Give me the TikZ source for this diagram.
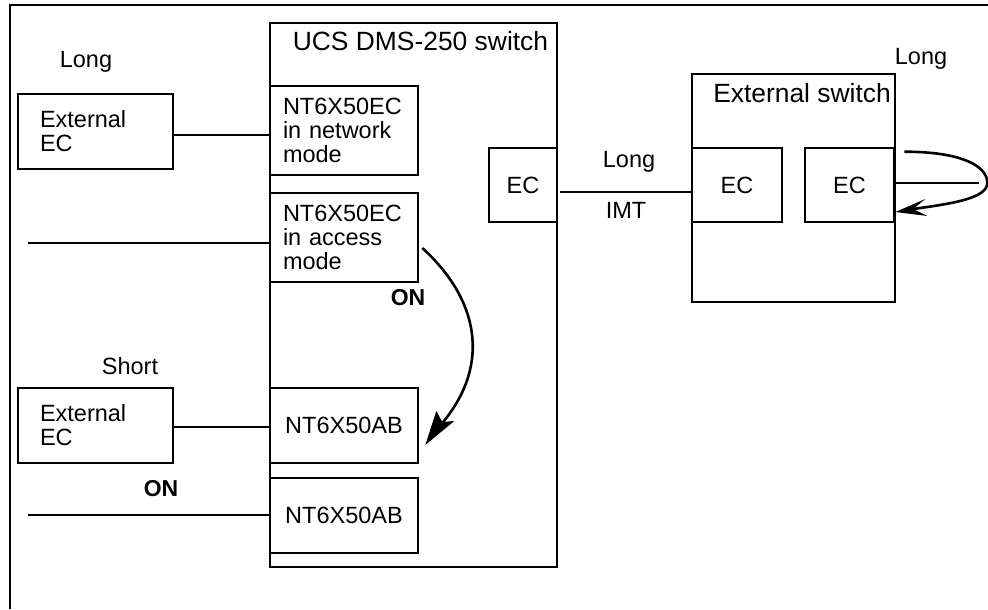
\documentclass[tikz,border=0pt]{standalone}
\usepackage{fontspec}
\setmainfont{Liberation Sans}
\usetikzlibrary{calc}
\tikzset{
  box/.style={draw, rectangle, inner sep=0pt},
  bodyfont/.style={font=\fontsize{11.75}{12}\selectfont},
  titlefont/.style={font=\fontsize{13.2}{13.2}\selectfont},
  lbl/.style={bodyfont, inner sep=0pt},
  onlbl/.style={font=\fontsize{11.5}{11.5}\selectfont\bfseries, inner sep=0pt},
  multibox/.style={box, bodyfont, align=left, minimum width=74pt, minimum height=44.5pt, text width=61pt, inner xsep=6.5pt},
  extbox/.style={box, bodyfont, align=left, minimum width=77.5pt, minimum height=37.5pt, text width=55.5pt, inner xsep=11pt},
  abbox/.style={box, bodyfont, minimum width=74pt, minimum height=37.5pt},
  ecbox/.style={box, bodyfont, minimum height=37pt},
  headfill/.style={fill=black, draw=none}
}
\begin{document}
\begin{tikzpicture}[x=0.5pt,y=-0.5pt, line width=1.3pt]
\useasboundingbox (0,0) rectangle (988,609);
% outer frame
\coordinate (fbl) at (10,609);
\coordinate (ftl) at (10,5);
\coordinate (ftr) at (988,5);
\draw (fbl) -- (ftl) -- (ftr);

% UCS switch
\node[box, minimum width=143.5pt, minimum height=272pt] (ucs) at (413.5,295) {};
\node[inner sep=0pt, titlefont] (ucst) at (420.5,41) {UCS DMS-250 switch};

\node[multibox] (nc1) at (344,130.5) {NT6X50EC\\in network\\mode};
\node[multibox] (nc2) at (344,237.5) {NT6X50EC\\in access\\mode};
\node[abbox] (ab1) at (344,425.5) {NT6X50AB};
\node[abbox] (ab2) at (344,515.5) {NT6X50AB};
\node[ecbox, minimum width=34pt] (ecu) at (523,185) {EC};

% external ECs
\node[extbox] (ext1) at (95.5,131.5) {External\\EC};
\node[extbox] (ext2) at (95.5,425.5) {External\\EC};
\node[lbl] (long1) at (86,62) {Long};
\node[lbl] (short) at (130,366) {Short};

% external switch
\node[box, minimum width=101.5pt, minimum height=114pt] (exs) at (793.5,188) {};
\node[inner sep=0pt, titlefont] (exst) at (802,93) {External switch};
\node[ecbox, minimum width=45pt] (eca) at (737,185) {EC};
\node[ecbox, minimum width=44.5pt] (ecb) at (849.5,185) {EC};
\node[lbl] (long2) at (921,59) {Long};
\node[lbl] (long3) at (629,162) {Long};
\node[lbl] (imt) at (626,210) {IMT};

% connectors
\draw ($(ext1.east)+(0,3.5)$) -- ($(ext1.east -| nc1.west)+(0,3.5)$);
\coordinate (f1) at (28,243);
\draw (f1) -- (f1 -| nc2.west);
\draw ($(ext2.east)+(0,1.5)$) -- ($(ext2.east -| ab1.west)+(0,1.5)$);
\coordinate (f2) at (28,515);
\draw (f2) -- (f2 -| ab2.west);
\draw ($(ecu.east)+(2,7)$) -- ($(eca.west)+(0,7)$);

% ON labels
\node[onlbl] (on1) at (408,298) {ON};
\node[onlbl] (on2) at (161,489) {ON};

% ON curve arrow (head drawn as filled shape)
\coordinate (os) at ($(nc2.east)+(3,10.5)$);
\coordinate (ot) at ($(ab1.east)+(6,19.5)$);
\coordinate (oi) at ($(ot)+(17,-22)$);
\draw (os) .. controls +(55,50) and +(50,-60) .. (oi);
\fill[headfill] (ot) -- ($(ot)+(11,-34)$) -- ($(ot)+(17,-23)$) -- ($(ot)+(29,-24)$) -- cycle;

% loop arrow at external EC
\coordinate (ls) at ($(ecb.north east)+(9,5)$);
\coordinate (lr) at ($(ecb.east)+(92,-2)$);
\coordinate (lt) at ($(ecb.east)+(0,27)$);
\coordinate (li) at ($(lt)+(18,-3)$);
\coordinate (lm) at ($(ecb.east)+(84,-2)$);
\draw ($(ecb.east)+(0,-2)$) -- (lm);
\draw (ls) .. controls +(55,0) and +(0,-18) .. (lr) .. controls +(0,16) and +(35,-5) .. (li);
\fill[headfill] (lt) -- ($(lt)+(30,-13)$) -- ($(lt)+(18,-3)$) -- ($(lt)+(32,4)$) -- cycle;
\end{tikzpicture}
\end{document}
